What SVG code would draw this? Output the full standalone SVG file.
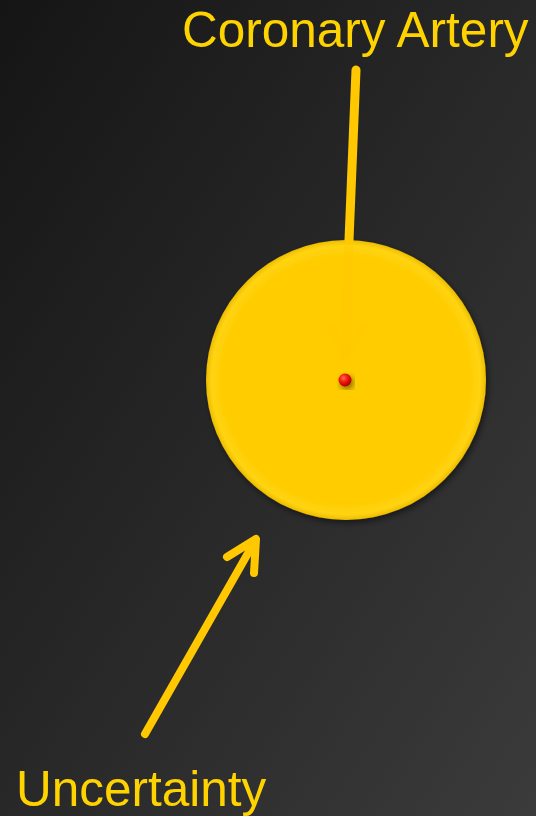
<svg xmlns="http://www.w3.org/2000/svg" width="536" height="816" viewBox="0 0 536 816">
  <defs>
    <linearGradient id="bg" x1="0" y1="0" x2="1" y2="1">
      <stop offset="0" stop-color="#151515"/>
      <stop offset="1" stop-color="#3b3b3b"/>
    </linearGradient>
    <radialGradient id="disc" cx="0.5" cy="0.5" r="0.5">
      <stop offset="0" stop-color="#ffcc00"/>
      <stop offset="0.88" stop-color="#ffcc00"/>
      <stop offset="0.96" stop-color="#ffd412"/>
      <stop offset="1" stop-color="#ecbc00"/>
    </radialGradient>
    <radialGradient id="dot" cx="0.38" cy="0.35" r="0.65">
      <stop offset="0" stop-color="#ff6a50"/>
      <stop offset="0.5" stop-color="#f01a0a"/>
      <stop offset="1" stop-color="#b00000"/>
    </radialGradient>
    <filter id="shadow" x="-20%" y="-20%" width="140%" height="140%">
      <feGaussianBlur in="SourceAlpha" stdDeviation="3"/>
      <feOffset dx="2" dy="3"/>
      <feComponentTransfer><feFuncA type="linear" slope="0.5"/></feComponentTransfer>
      <feMerge><feMergeNode/><feMergeNode in="SourceGraphic"/></feMerge>
    </filter>
    <style>
      .lbl { font-family: "Liberation Sans", Arial, sans-serif; font-size: 49.5px; fill: #ffd300; }
      .arrow { stroke: #ffc800; fill: none; stroke-linecap: round; stroke-linejoin: round; }
    </style>
  </defs>
  <rect x="0" y="0" width="536" height="816" fill="url(#bg)"/>

  <g id="disc-node">
    <circle cx="346" cy="380" r="140" fill="url(#disc)" filter="url(#shadow)"/>
  </g>

  <g id="connectors">
    <path class="arrow" d="M356,70 L349,240" stroke-width="9" stroke-linecap="butt"/>
    <path class="arrow" d="M349,240 L345,356" stroke-width="9" stroke-linecap="butt" stroke="#ffd000" stroke-opacity="0.35"/>
    <path class="arrow" d="M331,326 L344,357 L362,327" stroke-width="8" stroke="#ffd000" stroke-opacity="0.3"/>
    <path class="arrow" d="M145,734 L255,541" stroke-width="8" stroke-linecap="butt"/>
    <path class="arrow" d="M227,557 L256,539 L254,573" stroke-width="8"/>
  </g>

  <g id="artery-dot">
    <circle cx="345" cy="380" r="6.5" fill="url(#dot)" filter="url(#shadow)"/>
  </g>

  <g id="label-coronary">
    <text class="lbl" x="182" y="47">Coronary Artery</text>
  </g>
  <g id="label-uncertainty">
    <text class="lbl" x="16" y="806">Uncertainty</text>
  </g>
</svg>
